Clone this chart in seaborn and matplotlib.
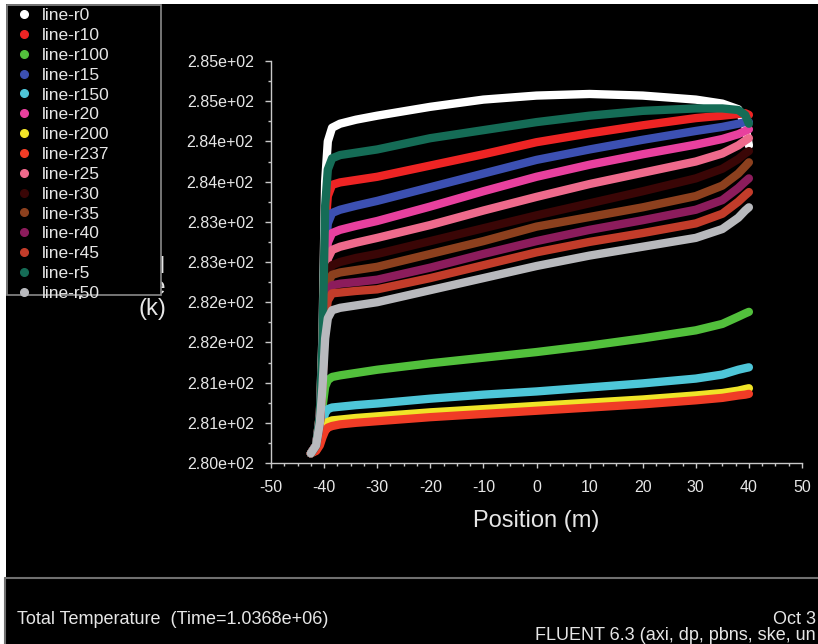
import numpy as np
import pandas as pd
import matplotlib
matplotlib.use("Agg")
import matplotlib.pyplot as plt
from matplotlib.patches import Rectangle
from matplotlib.lines import Line2D
from matplotlib.ticker import MultipleLocator
import seaborn as sns

# ---------------- data ----------------
position = [-42.5, -41.5, -40.8, -40.3, -39.8, -39.3, -38.5, -37, -34, -30,
            -20, -10, 0, 10, 20, 30, 35, 38, 39.3, 40]

series_names = ["line-r0", "line-r10", "line-r100", "line-r15", "line-r150",
                "line-r20", "line-r200", "line-r237", "line-r25", "line-r30",
                "line-r35", "line-r40", "line-r45", "line-r5", "line-r50"]

r0 = [280.12, 280.22, 280.6, 281.6, 283.5, 284.0, 284.17, 284.22, 284.27, 284.32,
      284.43, 284.52, 284.57, 284.59, 284.57, 284.52, 284.47, 284.4, 284.2, 283.95]
r5 = [280.12, 280.22, 280.6, 281.5, 283.2, 283.65, 283.79, 283.83, 283.86, 283.9,
      284.04, 284.14, 284.24, 284.32, 284.38, 284.41, 284.41, 284.39, 284.33, 284.22]
r10 = [280.12, 280.22, 280.6, 281.4, 282.9, 283.32, 283.46, 283.49, 283.52, 283.56,
       283.7, 283.84, 283.99, 284.1, 284.2, 284.29, 284.32, 284.34, 284.35, 284.33]
r15 = [280.12, 280.22, 280.55, 281.3, 282.6, 282.98, 283.11, 283.15, 283.2, 283.26,
       283.43, 283.6, 283.77, 283.9, 284.02, 284.13, 284.18, 284.22, 284.24, 284.24]
r20 = [280.12, 280.22, 280.55, 281.25, 282.4, 282.74, 282.86, 282.9, 282.95, 283.01,
       283.19, 283.38, 283.56, 283.71, 283.84, 283.96, 284.03, 284.09, 284.13, 284.15]
r25 = [280.12, 280.22, 280.5, 281.2, 282.2, 282.54, 282.65, 282.69, 282.74, 282.8,
       282.96, 283.14, 283.31, 283.47, 283.61, 283.75, 283.85, 283.95, 284.01, 284.04]
r30 = [280.12, 280.22, 280.5, 281.15, 282.05, 282.36, 282.46, 282.5, 282.55, 282.6,
       282.76, 282.92, 283.08, 283.23, 283.38, 283.54, 283.66, 283.78, 283.85, 283.88]
r35 = [280.12, 280.22, 280.5, 281.1, 281.95, 282.24, 282.34, 282.37, 282.4, 282.44,
       282.6, 282.76, 282.94, 283.06, 283.18, 283.32, 283.45, 283.6, 283.69, 283.74]
r40 = [280.12, 280.22, 280.5, 281.05, 281.85, 282.12, 282.21, 282.23, 282.25, 282.28,
       282.43, 282.6, 282.76, 282.9, 283.02, 283.15, 283.27, 283.42, 283.5, 283.54]
r45 = [280.12, 280.22, 280.5, 281.0, 281.78, 282.02, 282.11, 282.12, 282.14, 282.16,
       282.3, 282.46, 282.62, 282.75, 282.86, 282.98, 283.1, 283.25, 283.33, 283.37]
r50 = [280.12, 280.22, 280.5, 280.95, 281.55, 281.8, 281.9, 281.93, 281.96, 282.0,
       282.15, 282.3, 282.45, 282.58, 282.69, 282.8, 282.91, 283.05, 283.14, 283.18]
r100 = [280.12, 280.2, 280.4, 280.7, 280.95, 281.03, 281.07, 281.09, 281.12, 281.16,
        281.24, 281.31, 281.38, 281.46, 281.55, 281.65, 281.73, 281.82, 281.86, 281.88]
r150 = [280.12, 280.18, 280.32, 280.5, 280.62, 280.67, 280.69, 280.7, 280.72, 280.74,
        280.8, 280.85, 280.89, 280.94, 280.99, 281.05, 281.1, 281.16, 281.18, 281.19]
r200 = [280.12, 280.16, 280.25, 280.38, 280.47, 280.51, 280.53, 280.54, 280.56, 280.58,
        280.63, 280.67, 280.71, 280.75, 280.79, 280.84, 280.87, 280.9, 280.92, 280.93]
r237 = [280.12, 280.15, 280.22, 280.32, 280.4, 280.44, 280.46, 280.48, 280.5, 280.52,
        280.57, 280.61, 280.65, 280.69, 280.73, 280.78, 280.81, 280.84, 280.85, 280.86]

series_values = {"line-r0": r0, "line-r10": r10, "line-r100": r100, "line-r15": r15,
                 "line-r150": r150, "line-r20": r20, "line-r200": r200,
                 "line-r237": r237, "line-r25": r25, "line-r30": r30,
                 "line-r35": r35, "line-r40": r40, "line-r45": r45,
                 "line-r5": r5, "line-r50": r50}

colors = {"line-r0": "#ffffff", "line-r10": "#ee2424", "line-r100": "#52c03c",
          "line-r15": "#3c50b2", "line-r150": "#4ec6d8", "line-r20": "#e8409e",
          "line-r200": "#f0e428", "line-r237": "#f03c26", "line-r25": "#ee6a8c",
          "line-r30": "#3a0606", "line-r35": "#8c401e", "line-r40": "#8c1c5c",
          "line-r45": "#c23c2a", "line-r5": "#156c56", "line-r50": "#b8b9bd"}

x_ticks = [-50, -40, -30, -20, -10, 0, 10, 20, 30, 40, 50]
y_ticks = [280.0, 280.5, 281.0, 281.5, 282.0, 282.5, 283.0, 283.5, 284.0, 284.5, 285.0]
y_tick_labels = ["2.80e+02", "2.81e+02", "2.81e+02", "2.82e+02", "2.82e+02",
                 "2.83e+02", "2.83e+02", "2.84e+02", "2.84e+02", "2.85e+02", "2.85e+02"]

rows = []
for name in series_names:
    for xv, tv in zip(position, series_values[name]):
        rows.append({"Position": xv, "Temperature": tv, "series": name})
df = pd.DataFrame(rows)

# ---------------- figure ----------------
sns.set_theme(style="dark")
plt.rcParams["font.family"] = ["Liberation Sans", "DejaVu Sans"]

W, H = 818, 644
fig = plt.figure(figsize=(W / 100, H / 100), dpi=100)
fig.patch.set_facecolor("white")
fig.add_artist(Rectangle((6 / W, 0), 1 - 6 / W, 1 - 4 / H, transform=fig.transFigure,
                         facecolor="black", edgecolor="none", zorder=-10))

ax = fig.add_axes([271 / W, (H - 463) / H, 531 / W, 402 / H])
ax.set_facecolor("black")

sns.lineplot(data=df, x="Position", y="Temperature", hue="series",
             hue_order=series_names, palette=colors, estimator=None, sort=False,
             linewidth=6.0, legend=False, ax=ax, solid_capstyle="round",
             solid_joinstyle="round")

ax.set_xlim(-50, 50)
ax.set_ylim(280, 285)
ax.set_xticks(x_ticks)
ax.set_xticklabels([str(v) for v in x_ticks])
ax.set_yticks(y_ticks)
ax.set_yticklabels(y_tick_labels)
ax.xaxis.set_minor_locator(MultipleLocator(2.5))
ax.yaxis.set_minor_locator(MultipleLocator(0.25))
ax.grid(False)

tick_col = "#e6e6e6"
for s in ["top", "right"]:
    ax.spines[s].set_visible(False)
for s in ["left", "bottom"]:
    ax.spines[s].set_color("#c8c8c8")
    ax.spines[s].set_linewidth(1.0)
ax.tick_params(axis="both", which="major", colors="#c8c8c8", labelcolor=tick_col,
               labelsize=11.5, direction="out", width=1.0)
ax.tick_params(axis="y", which="major", length=4.5, pad=8, left=True)
ax.tick_params(axis="x", which="major", length=3.5, pad=9, bottom=True)
ax.tick_params(axis="both", which="minor", colors="#c8c8c8", length=2.2, width=1.0,
               direction="out", left=True, bottom=True)

ax.set_xlabel("Position (m)", fontsize=17, color=tick_col)
ax.xaxis.set_label_coords(0.5, (463 - 510) / 402)
ax.set_ylabel("Total\nTemperature\n(k)", fontsize=17, color=tick_col, rotation=0,
              ha="right", va="center", multialignment="right", linespacing=0.95)
ax.yaxis.set_label_coords((166 - 271) / 531, (463 - 288) / 402)

# legend box (drawn over the y-axis title, as in the original screenshot)
fig.add_artist(Rectangle((7 / W, 1 - 295 / H), (161 - 7) / W, (295 - 5) / H,
                         transform=fig.transFigure, facecolor="black",
                         edgecolor="#8a8a8a", linewidth=1.2, zorder=4))
handles = [Line2D([], [], marker="o", linestyle="none", markersize=5.5,
                  markerfacecolor=colors[n], markeredgecolor=colors[n]) for n in series_names]
leg = fig.legend(handles, series_names, loc="upper left",
                 bbox_to_anchor=(8.7 / W, 1 - 8 / H), frameon=False,
                 fontsize=12.5, labelcolor=tick_col, handlelength=1.75,
                 handletextpad=0.14, borderpad=0.0, borderaxespad=0.0,
                 labelspacing=0.27)
leg.set_zorder(5)

# bottom panel
fig.add_artist(Line2D([5 / W, 1], [1 - 578 / H, 1 - 578 / H], transform=fig.transFigure,
                      color="#707070", linewidth=1.5))
fig.add_artist(Line2D([5 / W, 5 / W], [1 - 578 / H, 0], transform=fig.transFigure,
                      color="#707070", linewidth=1.5))
fig.text(17 / W, 1 - 620 / H, "Total Temperature  (Time=1.0368e+06)", color=tick_col,
         fontsize=13, ha="left", va="center")
fig.text(816 / W, 1 - 619 / H, "Oct 3", color=tick_col, fontsize=13, ha="right", va="center")
fig.text(816 / W, 1 - 635 / H, "FLUENT 6.3 (axi, dp, pbns, ske, un", color=tick_col,
         fontsize=13, ha="right", va="center")

fig.savefig("out.png", dpi=100, facecolor=fig.get_facecolor())
